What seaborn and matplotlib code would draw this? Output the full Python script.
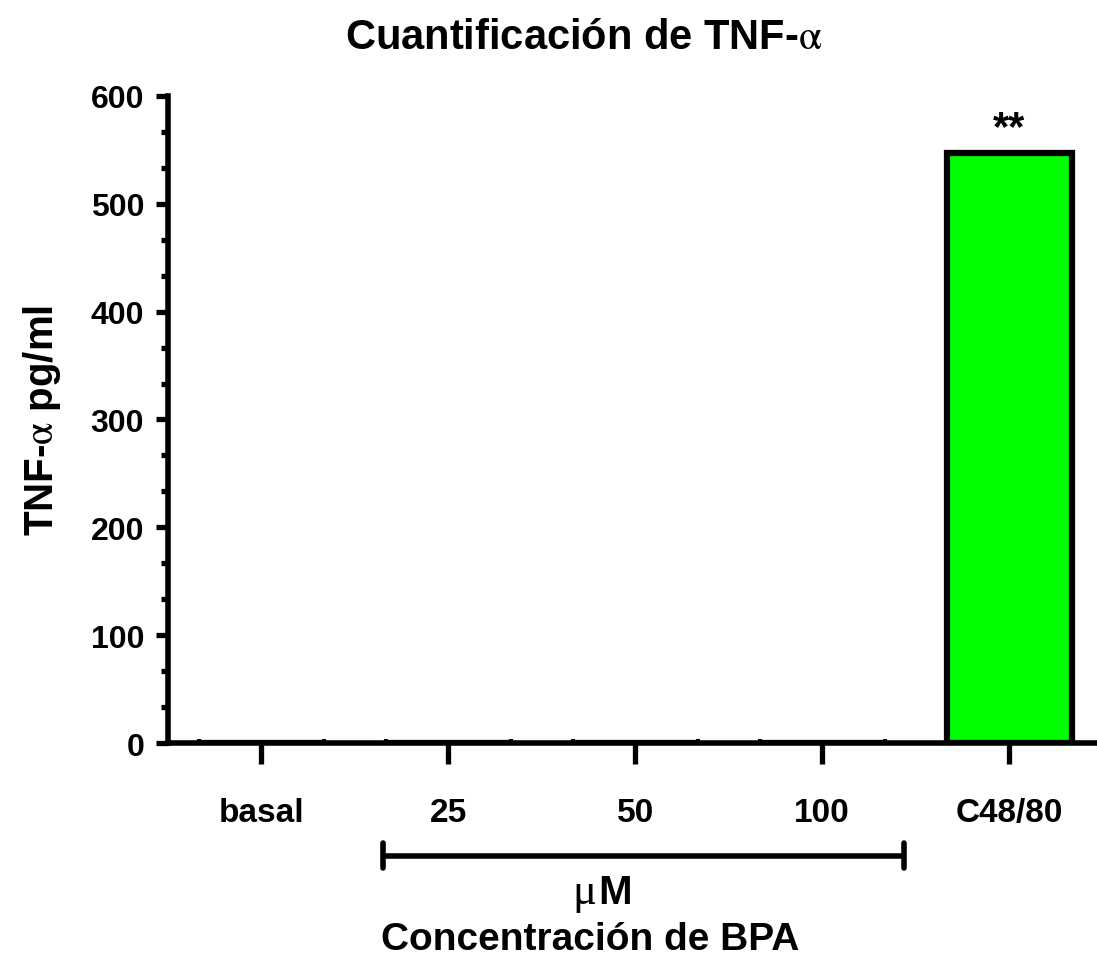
import matplotlib
matplotlib.use("Agg")
import matplotlib.pyplot as plt
import matplotlib.transforms as mtransforms
import seaborn as sns
import pandas as pd
import numpy as np

categories = ["basal", "25", "50", "100", "C48/80"]
values = [0, 0, 0, 0, 547]
significance = ["", "", "", "", "**"]
y_ticks = [0, 100, 200, 300, 400, 500, 600]

sns.set_style("ticks")
plt.rcParams['font.family'] = ['Liberation Sans', 'DejaVu Sans']
plt.rcParams['mathtext.fontset'] = 'stix'
for k in ['text.color', 'axes.edgecolor', 'axes.labelcolor', 'xtick.color', 'ytick.color']:
    plt.rcParams[k] = 'black'

df = pd.DataFrame({"cat": categories, "val": values})

fig = plt.figure(figsize=(10.97, 9.62), dpi=100)
ax = fig.add_axes([0.153, 0.2266, 0.847, 0.6726])

sns.barplot(data=df, x="cat", y="val", order=categories, color="#00FF00",
            edgecolor="black", linewidth=4.5, width=0.67, ax=ax, saturation=1)

ax.set_ylim(0, 600)
ax.set_xlim(-0.5, 4.47)
ax.set_yticks(y_ticks)
ax.set_yticklabels([str(v) for v in y_ticks], fontsize=23, fontweight='bold')
ax.set_yticks(np.arange(0, 601, 100 / 3), minor=True)
ax.set_xticks(range(len(categories)))
ax.set_xticklabels(categories, fontsize=24, fontweight='bold')
edges = []
for i in range(len(categories)):
    edges += [i - 0.335, i + 0.335]
ax.set_xticks(edges, minor=True)

ax.tick_params(axis='y', which='major', length=9, width=3.8, direction='out', pad=8)
ax.tick_params(axis='y', which='minor', length=5, width=3.8, direction='out')
ax.tick_params(axis='x', which='major', length=15, width=3.8, direction='out', pad=24)
ax.tick_params(axis='x', which='minor', length=3, width=3, direction='in')

for s in ['top', 'right']:
    ax.spines[s].set_visible(False)
for s in ['left', 'bottom']:
    ax.spines[s].set_linewidth(4)

ax.set_xlabel("")
ax.set_ylabel("TNF-$\\mathrm{\\alpha}$ pg/ml", fontsize=29, fontweight='bold', labelpad=20)

for i, (v, s) in enumerate(zip(values, significance)):
    if s:
        ax.text(i, v + 5, s, ha='center', va='bottom', fontsize=30, fontweight='bold')

# bracket for µM
trans = mtransforms.blended_transform_factory(ax.transData, fig.transFigure)
yb = 1 - 857 / 962
ax.plot([0.65, 3.44], [yb, yb], transform=trans, color='black', lw=4,
        clip_on=False, solid_capstyle='butt')
for xx in [0.65, 3.44]:
    ax.plot([xx, xx], [yb - 12 / 962, yb + 13 / 962], transform=trans, color='black',
            lw=4, clip_on=False, solid_capstyle='round')
fig.text(596 / 1097, 1 - 893 / 962, "μ", ha='right', va='center',
         fontsize=32, family=['Liberation Serif', 'DejaVu Serif'])
fig.text(598 / 1097, 1 - 893 / 962, "M", ha='left', va='center',
         fontsize=29, fontweight='bold')

fig.text(590 / 1097, 1 - 940 / 962, "Concentración de BPA", ha='center', va='center',
         fontsize=28, fontweight='bold')
fig.text(584 / 1097, 1 - 38 / 962, "Cuantificación de TNF-$\\mathrm{\\alpha}$", ha='center', va='center',
         fontsize=30, fontweight='bold')

fig.savefig("out.png", dpi=100)
